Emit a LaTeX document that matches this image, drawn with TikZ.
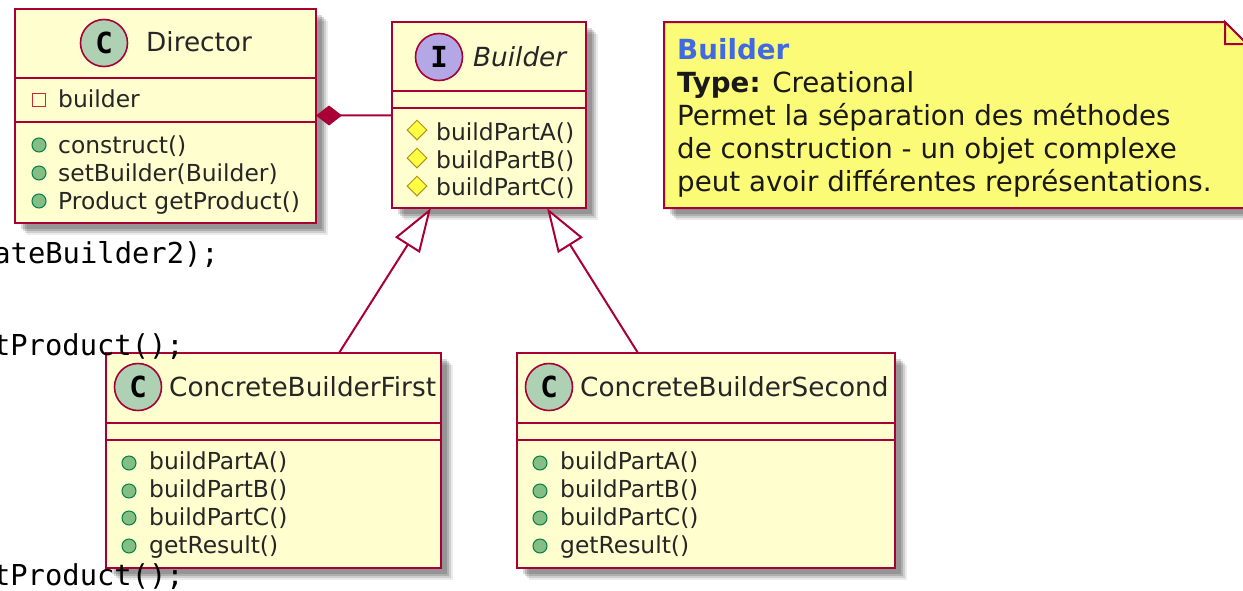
\documentclass[tikz,border=0pt]{standalone}
\usepackage{fontspec}
\usepackage{xcolor}
\setmainfont{DejaVu Sans}
\setmonofont{DejaVu Sans Mono}
\usetikzlibrary{arrows.meta, shapes.geometric, shadows}
\definecolor{umlred}{RGB}{168, 0, 54}
\definecolor{boxyellow}{RGB}{254, 254, 206}
\definecolor{noteyellow}{RGB}{251, 251, 119}
\definecolor{spotgreen}{RGB}{173, 209, 178}
\definecolor{spotpurple}{RGB}{180, 167, 229}
\definecolor{pubgreen}{RGB}{132, 190, 132}
\definecolor{pubedge}{RGB}{3, 128, 72}
\definecolor{protyellow}{RGB}{255, 255, 68}
\definecolor{protedge}{RGB}{179, 141, 34}
\definecolor{privred}{RGB}{200, 41, 48}
\definecolor{titleblue}{RGB}{65, 105, 225}

\begin{document}
\begin{tikzpicture}[
    x=1pt, y=-1pt,
    softshadow/.style={
        drop shadow={shadow xshift=12pt, shadow yshift=-12pt, fill=black, opacity=.08},
        drop shadow={shadow xshift=10pt, shadow yshift=-10pt, fill=black, opacity=.12},
        drop shadow={shadow xshift=8pt, shadow yshift=-8pt, fill=black, opacity=.15},
        drop shadow={shadow xshift=6pt, shadow yshift=-6pt, fill=black, opacity=.15}},
    classbox/.style={rectangle, draw=umlred, fill=boxyellow, line width=2.6pt, inner sep=0pt, outer sep=0pt, softshadow},
    sepline/.style={draw=umlred, line width=2.6pt},
    spot/.style={circle, draw=umlred, line width=1.6pt, minimum size=47pt, inner sep=0pt, font=\fontsize{29}{29}\ttfamily\bfseries},
    classtitle/.style={anchor=base west, inner sep=0pt, font=\fontsize{26.3}{26.3}\selectfont, text=black!85},
    member/.style={anchor=base west, inner sep=0pt, font=\fontsize{23.4}{23.4}\selectfont, text=black!85},
    pubicon/.style={circle, draw=pubedge, fill=pubgreen, line width=1pt, minimum size=14pt, inner sep=0pt},
    proticon/.style={diamond, draw=protedge, fill=protyellow, line width=1pt, minimum size=20pt, inner sep=0pt},
    privicon/.style={rectangle, draw=privred, line width=1.4pt, minimum size=13pt, inner sep=0pt},
    linkline/.style={draw=umlred, line width=2pt},
    inherit/.style={linkline, -{Triangle[fill=white, length=44pt, width=29pt]}},
    codeline/.style={anchor=base east, inner sep=0pt, font=\fontsize{28.8}{28.8}\ttfamily}
]
\useasboundingbox (0,0) rectangle (1243,590);

% Director
\node[classbox, minimum width=301pt, minimum height=214pt] (director) at (165.5,116) {};
\draw[sepline] (director.west |- 0,78) -- (director.east |- 0,78);
\draw[sepline] (director.west |- 0,122) -- (director.east |- 0,122);
\node[spot, fill=spotgreen] (directorSpot) at (104,43) {C};
\node[classtitle] (directorTitle) at (146,51) {Director};
\node[privicon] (directorIconA) at (39,100) {};
\node[member] (directorBuilder) at (58,107) {builder};
\node[pubicon] (directorIconB) at (39,145) {};
\node[member] (directorConstruct) at (58,153) {construct()};
\node[pubicon] (directorIconC) at (39,173) {};
\node[member] (directorSet) at (58,181) {setBuilder(Builder)};
\node[pubicon] (directorIconD) at (39,201) {};
\node[member] (directorGet) at (58,209) {Product getProduct()};

% Builder interface
\node[classbox, minimum width=194pt, minimum height=186pt] (builder) at (489,115) {};
\draw[sepline] (builder.west |- 0,91) -- (builder.east |- 0,91);
\draw[sepline] (builder.west |- 0,108) -- (builder.east |- 0,108);
\node[spot, fill=spotpurple] (builderSpot) at (439,57) {I};
\node[classtitle, font=\fontsize{26.3}{26.3}\itshape] (builderTitle) at (473,66) {Builder};
\node[proticon] (builderIconA) at (417,130) {};
\node[member] (builderPartA) at (436,140) {buildPartA()};
\node[proticon] (builderIconB) at (417,158) {};
\node[member] (builderPartB) at (436,168) {buildPartB()};
\node[proticon] (builderIconC) at (417,186) {};
\node[member] (builderPartC) at (436,195) {buildPartC()};

% First concrete builder
\node[classbox, minimum width=335pt, minimum height=215pt] (first) at (273.5,460.5) {};
\draw[sepline] (first.west |- 0,423) -- (first.east |- 0,423);
\draw[sepline] (first.west |- 0,440) -- (first.east |- 0,440);
\node[spot, fill=spotgreen] (firstSpot) at (138,387) {C};
\node[classtitle] (firstTitle) at (169,396) {ConcreteBuilderFirst};
\node[pubicon] (firstIconA) at (129,463) {};
\node[member] (firstPartA) at (149,469) {buildPartA()};
\node[pubicon] (firstIconB) at (129,491) {};
\node[member] (firstPartB) at (149,497) {buildPartB()};
\node[pubicon] (firstIconC) at (129,518) {};
\node[member] (firstPartC) at (149,525) {buildPartC()};
\node[pubicon] (firstIconD) at (129,546) {};
\node[member] (firstResult) at (149,553) {getResult()};

% Second concrete builder
\node[classbox, minimum width=378pt, minimum height=215pt] (second) at (706,460.5) {};
\draw[sepline] (second.west |- 0,423) -- (second.east |- 0,423);
\draw[sepline] (second.west |- 0,440) -- (second.east |- 0,440);
\node[spot, fill=spotgreen] (secondSpot) at (549,387) {C};
\node[classtitle] (secondTitle) at (580,396) {ConcreteBuilderSecond};
\node[pubicon] (secondIconA) at (540,463) {};
\node[member] (secondPartA) at (560,469) {buildPartA()};
\node[pubicon] (secondIconB) at (540,491) {};
\node[member] (secondPartB) at (560,497) {buildPartB()};
\node[pubicon] (secondIconC) at (540,518) {};
\node[member] (secondPartC) at (560,525) {buildPartC()};
\node[pubicon] (secondIconD) at (540,546) {};
\node[member] (secondResult) at (560,553) {getResult()};

% Note
\draw[draw=umlred, fill=noteyellow, line width=2pt, softshadow] (664,22) -- (1225,22) -- (1247,44) -- (1247,208) -- (664,208) -- cycle;
\draw[draw=umlred, fill=noteyellow, line width=2pt] (1225,22) -- (1225,44) -- (1247,44) -- cycle;
\node[anchor=north west, inner sep=0pt, align=left, font=\fontsize{27.7}{33}\selectfont, text=black!90] (note) at (677,38) {\textcolor{titleblue}{\textbf{Builder}}\\\textbf{Type:} Creational\\Permet la séparation des méthodes\\de construction - un objet complexe\\peut avoir différentes représentations.};

% Links
\coordinate (firstTop) at (339,353);
\coordinate (secondTop) at (638,353);
\coordinate (builderFootA) at (431,208);
\coordinate (builderFootB) at (547,208);
\draw[linkline, {Diamond[length=26pt, width=20pt, fill=umlred]}-] (director) -- (builder);
\draw[inherit] (firstTop) -- (builderFootA);
\draw[inherit] (secondTop) -- (builderFootB);

% Code lines behind the diagram
\node[codeline] (codeA) at (219,263) {ateBuilder2);};
\node[codeline] (codeB) at (184,355) {tProduct();};
\node[codeline] (codeC) at (184,585) {tProduct();};

\end{tikzpicture}
\end{document}
